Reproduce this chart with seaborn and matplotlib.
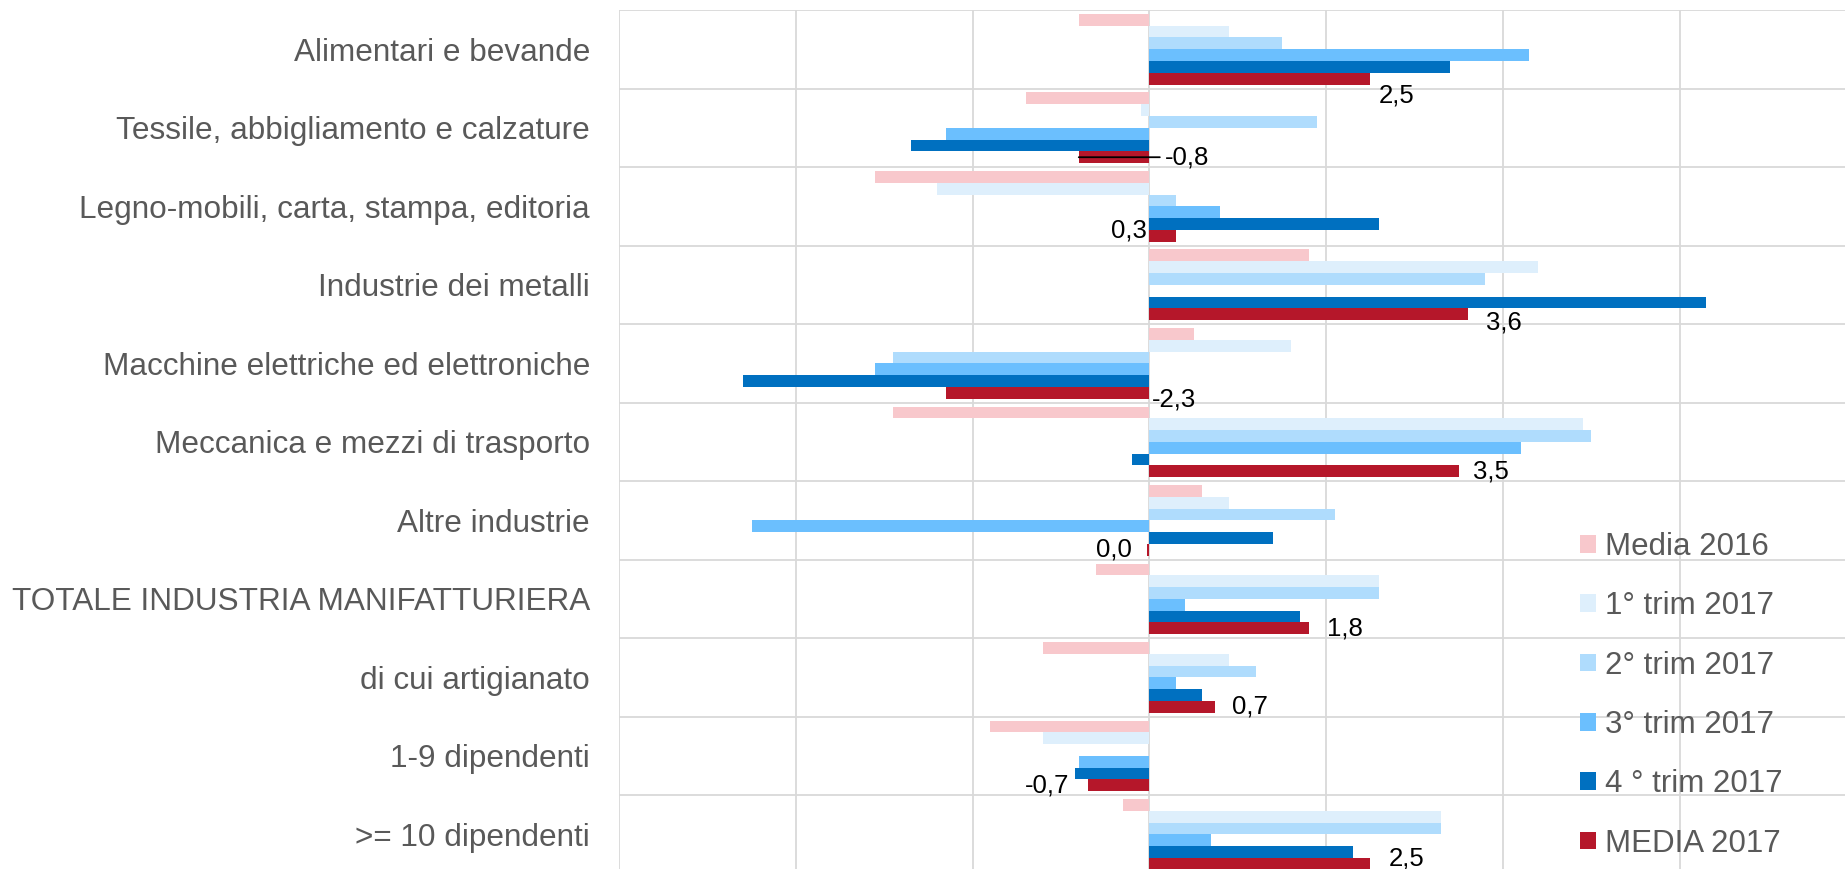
import pandas as pd
import matplotlib
matplotlib.use('Agg')
import matplotlib.pyplot as plt
import seaborn as sns
from matplotlib.patches import Patch

categories = ['Alimentari e bevande', 'Tessile, abbigliamento e calzature',
              'Legno-mobili, carta, stampa, editoria', 'Industrie dei metalli',
              'Macchine elettriche ed elettroniche', 'Meccanica e mezzi di trasporto',
              'Altre industrie', 'TOTALE INDUSTRIA MANIFATTURIERA',
              'di cui artigianato', '1-9 dipendenti', '>= 10 dipendenti']
series = ['Media 2016', '1° trim 2017', '2° trim 2017', '3° trim 2017',
          '4 ° trim 2017', 'MEDIA 2017']

media_2016 = [-0.8, -1.4, -3.1, 1.8, 0.5, -2.9, 0.6, -0.6, -1.2, -1.8, -0.3]
trim1_2017 = [0.9, -0.1, -2.4, 4.4, 1.6, 4.9, 0.9, 2.6, 0.9, -1.2, 3.3]
trim2_2017 = [1.5, 1.9, 0.3, 3.8, -2.9, 5.0, 2.1, 2.6, 1.2, 0.0, 3.3]
trim3_2017 = [4.3, -2.3, 0.8, 0.0, -3.1, 4.2, -4.5, 0.4, 0.3, -0.8, 0.7]
trim4_2017 = [3.4, -2.7, 2.6, 6.3, -4.6, -0.2, 1.4, 1.7, 0.6, -0.84, 2.3]
media_2017 = [2.5, -0.8, 0.3, 3.6, -2.3, 3.5, -0.03, 1.8, 0.74, -0.7, 2.5]

colors = ['#F8C8CC', '#DEEFFC', '#AFDCFD', '#6BBFFE', '#0070C0', '#B5172A']

# posizione etichette MEDIA 2017: (ancora, dx pt, dy pt)
label_pos = [('end', 6, -12), ('lead', 0, 2), ('zero', -2, 4), ('end', 13, -6),
             ('zero', 2, -5), ('end', 10, 0), ('zero', -13, 0), ('end', 13, 0),
             ('end', 12, 0), ('end', -13, 0), ('end', 13, 4)]

values = [media_2016, trim1_2017, trim2_2017, trim3_2017, trim4_2017, media_2017]
df = pd.DataFrame({
    'settore': categories * len(series),
    'serie': [s for s in series for _ in categories],
    'valore': [v for vals in values for v in vals],
})

sns.set_style('white')
plt.rcParams['font.family'] = ['Liberation Sans', 'DejaVu Sans']

fig = plt.figure(figsize=(18.45, 8.69), dpi=100)
ax = fig.add_axes([619.2 / 1845, 0, 1 - 619.2 / 1845, (869 - 10) / 869])

sns.barplot(data=df, x='valore', y='settore', hue='serie', orient='h',
            palette=colors, width=0.9, saturation=1, legend=False,
            linewidth=0, ax=ax, zorder=3)

ax.set_xlim(-6, 7.87)
ax.set_ylim(10.44, -0.5)

grid_c = '#D9D9D9'
for x in range(-6, 9, 2):
    ax.axvline(x, color=grid_c, lw=1.3, zorder=1)
for i in range(len(categories)):
    ax.axhline(i - 0.5, color=grid_c, lw=1.3, zorder=1)

for s in ax.spines.values():
    s.set_visible(False)
ax.set_xticks([])
ax.set_xlabel('')
ax.set_ylabel('')
ax.tick_params(axis='y', length=0, pad=21, labelsize=22.7, labelcolor='#595959')

def fmt(v):
    if abs(v) < 0.05:
        return '0,0'
    return f'{v:.1f}'.replace('.', ',')

for bar, v, (mode, dx, dy) in zip(ax.containers[-1], media_2017, label_pos):
    yc = bar.get_y() + bar.get_height() / 2
    if mode == 'lead':
        ax.annotate(fmt(v), xy=(v, yc), xytext=(0.17, yc), textcoords='data',
                    ha='left', va='center', fontsize=18.5, color='black',
                    arrowprops=dict(arrowstyle='-', color='black', lw=1.3,
                                    shrinkA=1, shrinkB=0))
        continue
    anchor = v if mode == 'end' else 0
    ax.annotate(fmt(v), xy=(anchor, yc), xytext=(dx, dy), textcoords='offset points',
                ha='left' if dx >= 0 else 'right', va='center',
                fontsize=18.5, color='black')

handles = [Patch(facecolor=c, edgecolor='none', label=s) for c, s in zip(colors, series)]
fig.legend(handles=handles, loc='center left', bbox_to_anchor=(1580 / 1845, 0.2),
           frameon=False, fontsize=22.5, labelcolor='#595959',
           handlelength=0.5, handleheight=0.5, handletextpad=0.3,
           labelspacing=0.94, borderpad=0, borderaxespad=0)

fig.savefig('out.png', dpi=100)
